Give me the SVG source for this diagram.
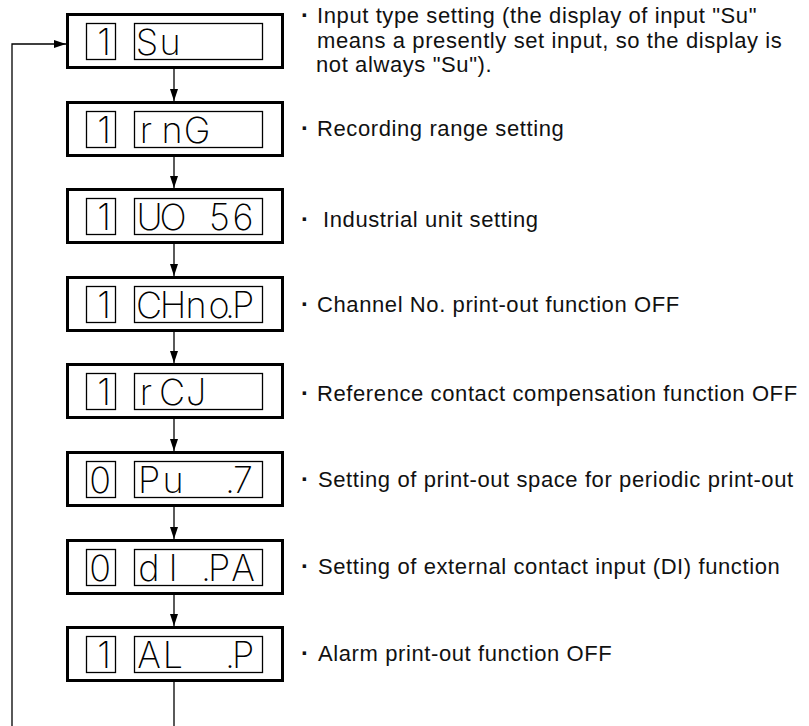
<svg xmlns="http://www.w3.org/2000/svg" width="809" height="726" viewBox="0 0 809 726">
<defs>
<style>
.outer{fill:#fff;stroke:#000;stroke-width:3}
.inner{fill:#fff;stroke:#000;stroke-width:1.3}
.seg{font-family:Inter,"Open Sans","DejaVu Sans",sans-serif;font-weight:200;font-size:36px;fill:#000;text-anchor:middle}
.lbl{font-family:"Liberation Sans",Arial,sans-serif;font-size:22px;fill:#111;letter-spacing:0.6px}
.bul{font-family:"Liberation Sans",Arial,sans-serif;font-size:24px;font-weight:bold;fill:#111}
.ln{fill:none;stroke:#000;stroke-width:1.3}
</style>
<marker id="ah" viewBox="0 0 12 8" refX="12" refY="4" markerWidth="12" markerHeight="8" markerUnits="userSpaceOnUse" orient="auto">
<path d="M0,0 L12,4 L0,8 Z" fill="#000"/>
</marker>
</defs>
<rect width="809" height="726" fill="#fff"/>

<g id="connectors">
<polyline class="ln" points="12,726 12,44 66,44" marker-end="url(#ah)"/>
<line class="ln" x1="174" y1="69" x2="174" y2="101" marker-end="url(#ah)"/>
<line class="ln" x1="174" y1="157" x2="174" y2="188" marker-end="url(#ah)"/>
<line class="ln" x1="174" y1="244" x2="174" y2="276" marker-end="url(#ah)"/>
<line class="ln" x1="174" y1="332" x2="174" y2="363" marker-end="url(#ah)"/>
<line class="ln" x1="174" y1="419" x2="174" y2="451" marker-end="url(#ah)"/>
<line class="ln" x1="174" y1="507" x2="174" y2="539" marker-end="url(#ah)"/>
<line class="ln" x1="174" y1="595" x2="174" y2="626" marker-end="url(#ah)"/>
<line class="ln" x1="174" y1="682" x2="174" y2="726"/>
</g>

<g id="node1">
<rect class="outer" x="67.5" y="14.5" width="215" height="53"/>
<rect class="inner" x="86.5" y="23.5" width="29" height="36"/>
<rect class="inner" x="134.5" y="23.5" width="128" height="36"/>
<text class="seg" x="104" y="55">1</text>
<text class="seg" x="147 170" y="55">Su</text>
<text class="bul" x="301" y="23">·</text>
<text class="lbl" x="317" y="23">Input type setting (the display of input "Su"</text>
<text class="lbl" x="317" y="48">means a presently set input, so the display is</text>
<text class="lbl" x="316" y="72">not always "Su").</text>
</g>

<g id="node2">
<rect class="outer" x="67.5" y="102.5" width="215" height="53"/>
<rect class="inner" x="86.5" y="111.5" width="29" height="36"/>
<rect class="inner" x="134.5" y="111.5" width="128" height="36"/>
<text class="seg" x="104" y="143">1</text>
<text class="seg" x="146 172 197" y="143">rnG</text>
<text class="bul" x="301" y="136">·</text>
<text class="lbl" x="317" y="136">Recording range setting</text>
</g>

<g id="node3">
<rect class="outer" x="67.5" y="189.5" width="215" height="53"/>
<rect class="inner" x="86.5" y="198.5" width="29" height="36"/>
<rect class="inner" x="134.5" y="198.5" width="128" height="36"/>
<text class="seg" x="104" y="230">1</text>
<text class="seg" x="149.5 173 219.5 243" y="230">UO56</text>
<text class="bul" x="301" y="227">·</text>
<text class="lbl" x="323" y="227">Industrial unit setting</text>
</g>

<g id="node4">
<rect class="outer" x="67.5" y="277.5" width="215" height="53"/>
<rect class="inner" x="86.5" y="286.5" width="29" height="36"/>
<rect class="inner" x="134.5" y="286.5" width="128" height="36"/>
<text class="seg" x="104" y="318">1</text>
<text class="seg" x="149 173 196 219 230 243" y="318">CHno.P</text>
<text class="bul" x="301" y="312">·</text>
<text class="lbl" x="317" y="312">Channel No. print-out function OFF</text>
</g>

<g id="node5">
<rect class="outer" x="67.5" y="364.5" width="215" height="53"/>
<rect class="inner" x="86.5" y="373.5" width="29" height="36"/>
<rect class="inner" x="134.5" y="373.5" width="128" height="36"/>
<text class="seg" x="104" y="405">1</text>
<text class="seg" x="146 172 196" y="405">rCJ</text>
<text class="bul" x="301" y="401">·</text>
<text class="lbl" x="317" y="401">Reference contact compensation function OFF</text>
</g>

<g id="node6">
<rect class="outer" x="67.5" y="452.5" width="215" height="53"/>
<rect class="inner" x="86.5" y="461.5" width="29" height="36"/>
<rect class="inner" x="134.5" y="461.5" width="128" height="36"/>
<text class="seg" x="100" y="493">0</text>
<text class="seg" x="149 173 230 243" y="493">Pu.7</text>
<text class="bul" x="301" y="487">·</text>
<text class="lbl" x="318" y="487">Setting of print-out space for periodic print-out</text>
</g>

<g id="node7">
<rect class="outer" x="67.5" y="540.5" width="215" height="53"/>
<rect class="inner" x="86.5" y="549.5" width="29" height="36"/>
<rect class="inner" x="134.5" y="549.5" width="128" height="36"/>
<text class="seg" x="100" y="581">0</text>
<text class="seg" x="149 173 206 219 243" y="581">dI.PA</text>
<text class="bul" x="301" y="574">·</text>
<text class="lbl" x="318" y="574">Setting of external contact input (DI) function</text>
</g>

<g id="node8">
<rect class="outer" x="67.5" y="627.5" width="215" height="53"/>
<rect class="inner" x="86.5" y="636.5" width="29" height="36"/>
<rect class="inner" x="134.5" y="636.5" width="128" height="36"/>
<text class="seg" x="104" y="668">1</text>
<text class="seg" x="149 173 230 243" y="668">AL.P</text>
<text class="bul" x="301" y="661">·</text>
<text class="lbl" x="318" y="661">Alarm print-out function OFF</text>
</g>
</svg>
